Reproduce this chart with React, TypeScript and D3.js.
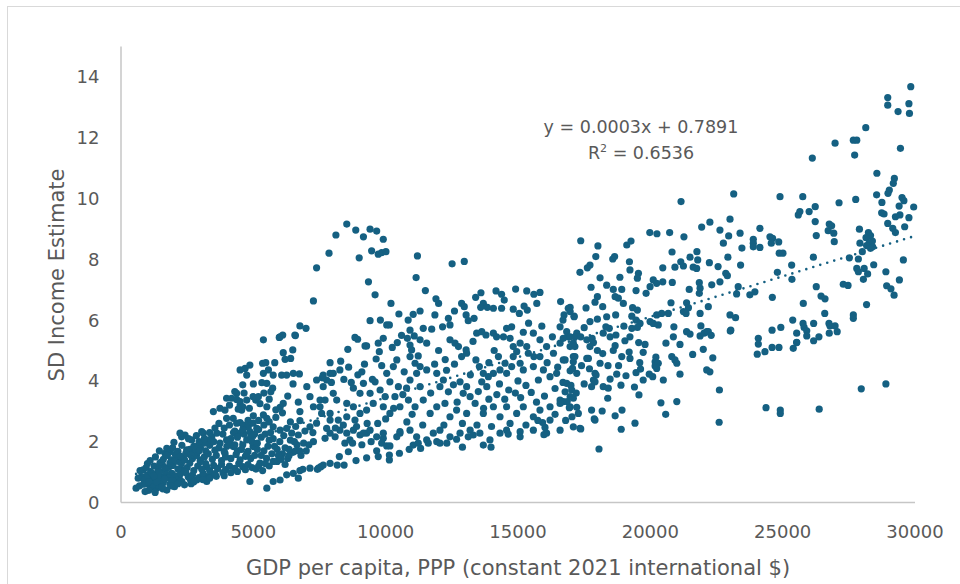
import React from "react";
import * as d3 from "d3";

// GDP per capita (PPP, constant 2021 int. $) vs. SD income estimate, grouped by GDP band.
const band0to5k: [number, number][] = [
  [570, 0.47], [910, 0.36], [780, 0.85], [840, 1.07], [1160, 0.52], [1350, 0.47], [1470, 0.63], [1730, 0.41],
  [1100, 0.85], [1350, 0.96], [1470, 1.29], [1660, 1.62], [1730, 1.78], [1920, 0.96], [1980, 1.29], [2100, 0.74],
  [2230, 1.51], [2350, 1.07], [2480, 1.73], [2540, 0.85], [2290, 2.16], [2420, 2.22], [2670, 2.06], [2860, 1.84],
  [2990, 1.4], [3240, 1.18], [3240, 0.85], [2860, 0.74], [3240, 0.69], [3050, 2.33], [3110, 2.28], [3430, 2.16],
  [3620, 2.28], [3740, 1.95], [3990, 2.06], [3930, 1.62], [4240, 1.84], [4500, 2.28], [4750, 2.06], [4990, 1.84],
  [3490, 2.99], [3740, 3.1], [3990, 2.77], [4240, 2.77], [4370, 2.61], [4690, 2.49], [4870, 2.33], [3990, 3.43],
  [4180, 3.43], [4370, 3.59], [4500, 3.21], [4560, 3.04], [4750, 3.37], [4990, 3.48], [4500, 4.36], [4690, 4.41],
  [4870, 4.52], [4600, 3.87], [4750, 4.19], [4870, 0.69], [1850, 1.67], [2230, 2.28], [4370, 3.39], [4500, 3.32],
  [4600, 3.15], [4430, 3.07], [3930, 3.04], [4500, 2.63], [4620, 2.55], [4810, 2.49], [4990, 2.61],
  [700, 0.55], [980, 0.62], [1230, 0.7], [1420, 0.58], [1600, 0.66], [1850, 0.6], [2020, 0.52], [2300, 0.69],
  [1050, 0.4], [1290, 0.33], [1580, 0.45], [2650, 0.62], [2200, 0.8], [650, 0.8], [880, 0.73], [1000, 0.9],
  [1180, 0.95], [1300, 0.78], [1520, 0.85], [1700, 0.95], [1800, 0.8], [2050, 0.88], [2250, 0.95], [2450, 0.99],
  [2700, 0.9], [2950, 0.82], [3100, 0.96], [3400, 0.92], [3600, 0.86], [3850, 0.98], [1400, 0.88], [1950, 0.72],
  [2620, 0.76], [720, 1.05], [950, 1.15], [1120, 1.02], [1250, 1.2], [1400, 1.1], [1560, 1.25], [1650, 1.05],
  [1800, 1.15], [1950, 1.22], [2150, 1.1], [2280, 1.28], [2500, 1.15], [2600, 1.3], [2750, 1.05], [2900, 1.2],
  [3050, 1.1], [3200, 1.28], [3350, 1.05], [3500, 1.22], [3650, 1.12], [3800, 1.25], [3950, 1.08], [4100, 1.2],
  [4300, 1.12], [4450, 1.28], [4600, 1.18], [4800, 1.25], [1000, 1.28], [1500, 1.32], [2400, 1.02], [1100, 1.38],
  [1300, 1.5], [1600, 1.42], [1750, 1.55], [1900, 1.4], [2050, 1.58], [2200, 1.35], [2350, 1.48], [2550, 1.6],
  [2700, 1.45], [2850, 1.55], [3000, 1.35], [3150, 1.5], [3300, 1.6], [3450, 1.42], [3600, 1.55], [3800, 1.38],
  [3950, 1.5], [4150, 1.45], [4350, 1.58], [4500, 1.4], [4700, 1.52], [4900, 1.45], [1450, 1.7], [1950, 1.8],
  [2150, 1.68], [2300, 1.88], [2600, 1.75], [2800, 1.65], [3000, 1.82], [3200, 1.7], [3350, 1.88], [3550, 1.72],
  [4000, 1.85], [4400, 1.7], [4600, 1.9], [4800, 1.68], [2000, 1.98], [2550, 2.1], [2850, 2.2], [3300, 2.05],
  [3850, 2.25], [4150, 2.1], [4300, 2.35], [4650, 2.25], [4900, 2.15],
  [2750, 0.68], [3100, 0.75], [3350, 0.8], [3550, 0.95], [3900, 0.88], [4150, 0.98], [4400, 1.02], [4700, 1.08],
  [4950, 1.15], [2400, 1.4], [2650, 1.55], [2950, 1.7], [3150, 1.95], [3500, 2.0], [3700, 1.8], [3900, 1.68],
  [4100, 2.0], [4300, 1.9], [4550, 1.75], [4750, 1.6], [4950, 2.0], [1200, 0.6], [1350, 0.68], [1550, 0.52],
  [1650, 0.78], [1900, 0.55], [2150, 0.62], [2400, 0.58], [850, 0.6], [1050, 0.68], [1250, 0.88], [1450, 1.02],
  [1650, 1.15], [1850, 1.3], [2050, 1.38], [2250, 1.52], [2450, 1.62], [2750, 1.85], [2950, 2.0], [3150, 2.1],
  [3350, 2.3], [3550, 2.45], [3700, 2.6], [3900, 2.45], [4100, 2.55], [4250, 2.3], [4400, 2.15], [4600, 2.4],
  [4800, 2.7], [4100, 3.2], [4300, 3.65], [4650, 3.6], [4850, 3.1],
];

const band5to10k: [number, number][] = [
  [5380, 5.35], [6010, 5.45], [6110, 5.51], [6570, 5.51], [6130, 4.93], [6490, 5.02], [6200, 4.71], [6410, 4.74],
  [5350, 4.58], [5470, 4.6], [5810, 4.6], [5380, 4.25], [5570, 4.36], [5750, 4.19], [6070, 4.19], [6260, 4.19],
  [6510, 4.25], [6740, 4.23], [5320, 3.94], [5510, 3.92], [5730, 3.76], [5660, 3.64], [5090, 3.37], [5190, 3.48],
  [5510, 3.15], [6010, 3.13], [6130, 3.26], [6760, 2.99], [5380, 2.88], [5510, 2.77], [5130, 2.44], [5750, 2.49],
  [6010, 2.38], [6260, 2.44], [6450, 2.28], [6700, 2.22], [7020, 3.81], [7140, 3.48], [7390, 4.03], [7640, 4.19],
  [7900, 4.25], [7520, 3.37], [7270, 3.15], [7580, 2.93], [7900, 2.71], [7770, 2.44], [7390, 2.61], [7140, 2.49],
  [6760, 2.69], [7270, 6.63], [6760, 5.81], [6990, 5.73], [6590, 5.49], [5980, 5.43], [7390, 7.72],
  [5510, 0.47], [5750, 0.69], [6010, 0.74], [6260, 0.91], [6510, 0.96], [6760, 1.05], [7140, 1.13], [7460, 1.13],
  [7640, 1.23], [7900, 1.29], [6700, 0.8], [6870, 1.09], [7420, 1.09], [7550, 1.18], [8170, 1.23], [8430, 1.23],
  [8250, 1.51], [8590, 1.67], [8880, 1.38], [9280, 1.47], [9660, 1.7], [9720, 1.51],
  [7270, 2.0], [7710, 2.11], [7900, 2.28], [8090, 2.16], [8460, 1.95], [8650, 2.06], [9030, 2.22], [9280, 2.28],
  [9660, 2.16], [9910, 2.11],
  [8530, 9.16], [8120, 8.8], [8870, 8.96], [9160, 8.74], [9410, 8.99], [9660, 8.93], [9910, 8.66], [9470, 8.28],
  [9720, 8.17], [9850, 8.22], [7860, 8.2], [9000, 8.05], [9350, 7.26], [9600, 6.83], [9410, 5.98], [8840, 5.43],
  [8940, 5.37], [9220, 5.15], [9280, 5.15], [8570, 5.04], [9720, 5.24], [9910, 5.4], [9760, 4.96], [9640, 4.72],
  [9600, 3.97], [9410, 3.59], [9160, 3.92], [9030, 3.59], [8780, 3.76], [8270, 4.36], [8020, 4.25], [7770, 4.03],
  [7640, 3.81], [8020, 3.59], [7710, 3.37], [7520, 3.15], [8150, 3.37], [7900, 2.93], [8530, 3.26], [8780, 3.15],
  [9030, 2.93], [8530, 2.82], [8210, 2.71], [8840, 2.71], [9280, 3.04], [9530, 3.26], [9910, 3.15], [8270, 2.38],
  [8530, 2.28], [8780, 2.38], [9160, 2.28], [9410, 2.38], [9910, 2.28], [9980, 3.48], [9790, 3.7],
  [5050, 1.55], [5150, 1.95], [5250, 1.3], [5300, 2.15], [5400, 1.7], [5500, 1.45], [5600, 2.05], [5700, 1.6],
  [5800, 1.85], [5900, 1.35], [6000, 2.0], [6100, 1.6], [6200, 1.8], [6300, 1.45], [6400, 2.05], [6500, 1.65],
  [6650, 1.9], [6800, 1.55], [5100, 1.1], [5350, 1.05], [5600, 1.2], [5900, 1.75], [6200, 1.25], [5200, 2.4],
  [5650, 2.3], [6900, 1.95], [7000, 1.7], [5050, 2.25], [7600, 4.1], [8300, 4.65], [8600, 4.45], [8950, 4.2],
  [9200, 4.55], [7950, 3.95], [7900, 4.6], [8420, 4.05], [8700, 3.95], [9100, 4.3],
  [5200, 1.2], [5450, 1.28], [5750, 1.35], [6050, 1.42], [6350, 1.55], [6600, 1.7], [5150, 1.75], [5300, 1.55],
  [5450, 2.25], [5550, 1.85], [5750, 2.1], [5950, 1.55], [6150, 2.2], [6350, 1.75], [6550, 2.0], [6750, 1.7],
  [6950, 2.35], [7100, 1.9], [7250, 2.3], [5000, 2.85], [5200, 2.7], [5400, 2.55], [5600, 2.65], [5850, 2.8],
  [6100, 2.95], [6400, 2.65], [6600, 2.5], [5000, 3.9], [5250, 3.25], [5400, 3.6], [5600, 3.4], [5850, 3.05],
  [6300, 3.5], [6500, 3.9], [6700, 3.3], [9500, 4.05], [9850, 4.5], [9800, 6.0], [9700, 2.6], [9300, 2.6],
  [8900, 2.5], [8400, 2.55], [8100, 2.45], [8750, 1.95], [9100, 1.9], [9450, 2.0], [9850, 1.95],
];

const band10to15k: [number, number][] = [
  [10010, 8.25], [11200, 8.11], [12510, 7.85], [12970, 7.93], [11150, 7.4], [11500, 6.97], [14170, 6.96],
  [14380, 6.85], [14480, 6.66], [14910, 7.02], [12870, 6.55], [12970, 6.44], [13690, 6.55], [13590, 6.42],
  [13840, 6.42], [14070, 6.39], [14380, 6.39], [14820, 6.36], [11040, 6.19], [11860, 6.17], [12370, 6.06],
  [12430, 5.84], [13040, 6.17], [13120, 5.98], [13340, 6.06], [10040, 5.84], [10140, 5.84], [10440, 5.26],
  [10920, 5.67], [11080, 5.48], [10820, 5.4], [10920, 5.18], [10980, 5.02], [11230, 4.82], [11420, 5.73],
  [11300, 5.35], [11550, 5.24], [11740, 5.7], [12150, 5.78], [12430, 5.35], [12620, 5.24], [12750, 5.13],
  [13040, 5.02], [12870, 4.8], [13060, 4.91], [13440, 5.57], [13630, 5.62], [13790, 5.51], [14070, 5.57],
  [14190, 5.45], [14450, 5.45], [14570, 5.73], [14760, 5.78], [14700, 5.4], [14820, 5.13], [14950, 4.96],
  [13410, 4.69], [13540, 4.47], [13690, 4.25], [13880, 4.14], [14070, 4.25], [13630, 3.97], [13820, 3.81],
  [14260, 4.8], [14510, 4.58], [14320, 4.36], [14570, 4.25], [14760, 4.47], [14820, 4.8], [11930, 4.25],
  [12180, 4.03], [12050, 3.81], [12370, 3.64], [12560, 3.87], [12810, 3.97], [13060, 3.81], [12930, 3.59],
  [13190, 3.48], [10920, 4.8], [11110, 4.58], [11300, 4.47], [11550, 4.36], [11170, 4.25], [10920, 4.03],
  [10790, 3.76], [11300, 3.81], [10420, 4.69], [10290, 4.47], [10040, 4.25], [10160, 3.97], [10480, 3.81],
  [10350, 3.48], [10160, 2.93], [10540, 3.15], [10860, 3.37], [11110, 3.15], [11420, 3.37], [11680, 2.93],
  [11930, 3.15], [12240, 3.26], [12430, 2.82], [12680, 3.04], [13060, 2.93], [13380, 3.26], [13690, 2.93],
  [14070, 3.15], [14320, 2.82], [14570, 3.15], [14950, 2.93], [10540, 2.28], [10920, 2.38], [11170, 2.16],
  [11550, 2.06], [11800, 2.28], [12050, 2.38], [12430, 2.16], [12810, 2.28], [13190, 2.38], [13560, 2.28],
  [13940, 2.06], [14320, 2.28], [14570, 2.38], [10040, 1.86], [10160, 1.86], [10140, 1.56], [10140, 1.4],
  [10520, 1.62], [10890, 1.75], [11040, 1.89], [11230, 1.95], [11320, 1.78], [11610, 1.95], [11930, 2.0],
  [12050, 1.95], [12310, 1.95], [12680, 2.08], [12900, 1.82], [13120, 2.16], [13310, 2.22], [13690, 1.89],
  [13980, 1.82], [14630, 2.25], [10420, 2.16], [10540, 2.33], [14200, 3.55], [14650, 3.7], [13900, 3.4],
  [10250, 5.1], [10600, 5.5], [10700, 4.3], [10650, 3.55], [10300, 3.1], [10800, 2.65], [11000, 2.9],
  [11400, 2.55], [11700, 3.6], [11850, 4.55], [12000, 5.0], [12250, 4.7], [12300, 4.35], [12600, 4.55],
  [12700, 3.3], [12900, 2.6], [13200, 4.2], [13300, 5.3], [13500, 3.65], [13700, 3.1], [13900, 4.6],
  [14100, 5.0], [14300, 3.9], [14500, 3.4], [14700, 2.6], [14900, 3.6], [12000, 6.55], [12600, 6.3],
  [13400, 6.75], [13600, 6.9], [11300, 6.3], [10500, 6.2], [10200, 6.55], [10850, 6.0], [11900, 6.7],
  [12200, 2.55], [13450, 2.55], [14000, 2.5], [10000, 2.75],
];

const band15to20k: [number, number][] = [
  [15330, 6.96], [15600, 6.85], [15830, 6.91], [15050, 6.22], [15350, 6.33], [15230, 6.46], [15710, 6.55],
  [16610, 6.61], [16900, 6.39], [17120, 6.13], [16740, 6.17], [15580, 5.57], [15830, 5.35], [16080, 5.13],
  [16340, 4.91], [16590, 5.24], [16900, 5.45], [16970, 5.13], [17220, 5.57], [17150, 5.13], [15080, 5.24],
  [15330, 5.13], [15390, 4.91], [15080, 4.58], [15200, 4.36], [15580, 4.47], [15830, 4.8], [15960, 4.36],
  [15770, 4.03], [16210, 4.14], [16460, 4.25], [16780, 4.69], [17090, 4.8], [17220, 4.25], [15200, 3.15],
  [15580, 2.82], [15830, 3.04], [16210, 3.15], [16590, 3.37], [16970, 3.15], [17280, 2.93], [15080, 2.16],
  [15580, 2.38], [16080, 2.28], [16590, 2.38], [17090, 2.49], [15080, 2.33], [15980, 2.23], [16020, 2.47],
  [15930, 2.63], [16210, 2.71], [17370, 2.42], [18060, 1.76], [17910, 2.71], [18900, 2.41], [19420, 2.61],
  [15100, 3.45], [15500, 3.62], [16000, 3.5], [16400, 3.75], [15300, 3.85], [16700, 3.95],
  [17370, 8.61], [18020, 8.44], [19110, 8.47], [19270, 8.6], [19980, 8.88], [17940, 8.09], [17720, 7.81],
  [17620, 7.72], [17340, 7.57], [18580, 8.01], [18650, 8.09], [19230, 7.65], [19550, 7.54], [19510, 7.38],
  [19210, 7.92], [18100, 7.39], [18850, 7.41], [18350, 7.15], [17760, 7.08], [18600, 7.01], [18920, 7.01],
  [18670, 6.77], [18790, 6.72], [18000, 6.77], [17910, 6.59], [18200, 6.44], [19460, 6.97], [19840, 6.88],
  [19990, 7.1], [18980, 6.55], [19330, 6.41], [19510, 6.33], [16970, 6.42], [17120, 6.11], [16970, 6.28],
  [17570, 6.4], [17720, 5.95], [18000, 6.03], [18350, 6.11], [18690, 6.17], [19300, 6.13], [19460, 6.0],
  [19610, 5.89], [19990, 5.95], [16590, 5.78], [16840, 5.62], [16970, 5.45], [17150, 5.45], [16710, 5.4],
  [17090, 5.24], [17370, 5.45], [17600, 5.35], [17800, 5.4], [17850, 5.26], [17720, 5.13], [18220, 5.57],
  [18450, 5.73], [18320, 5.78], [18480, 5.45], [18700, 5.51], [18670, 5.16], [19040, 5.32], [19230, 5.45],
  [19300, 5.73], [19510, 5.76], [19560, 5.26], [18920, 4.8], [19230, 4.74], [19730, 4.94], [17150, 4.8],
  [17090, 4.63], [16970, 4.33], [17060, 4.41], [16710, 4.69], [17600, 4.74], [17660, 4.74], [18100, 4.58],
  [17910, 4.25], [17850, 4.03], [17950, 4.19], [18220, 3.81], [18410, 3.76], [17780, 3.81], [17910, 3.97],
  [18480, 4.06], [18730, 4.22], [18890, 3.86], [19080, 4.17], [19460, 4.27], [19730, 4.03], [19630, 4.39],
  [19960, 4.22], [16840, 3.92], [17030, 3.7], [16780, 3.64], [16970, 3.48], [16710, 3.32], [16590, 3.26],
  [16860, 3.32], [17090, 3.43], [16940, 3.12], [17220, 3.13], [17040, 2.82], [17340, 2.44], [17780, 3.04],
  [17880, 2.75], [18180, 3.01], [18670, 2.85], [18930, 3.04], [18390, 3.43], [19570, 3.54],
  [15000, 4.0], [15200, 5.6], [15400, 5.9], [15600, 4.8], [15700, 3.3], [15900, 5.8], [16100, 4.6],
  [16300, 5.45], [16400, 2.9], [16500, 4.45], [16700, 6.0], [16800, 2.7], [17000, 3.85], [17200, 3.6],
  [17400, 4.5], [17500, 3.9], [17500, 5.75], [17700, 4.4], [18000, 5.0], [18200, 4.9], [18400, 4.5],
  [18600, 5.0], [18800, 4.5], [19000, 5.8], [19200, 4.95], [19400, 3.8], [19600, 4.6], [19800, 5.2],
  [15300, 2.55], [15750, 2.7],
];

const band20to25k: [number, number][] = [
  [20250, 8.84], [20730, 8.88], [21270, 8.74], [20820, 8.24], [20110, 7.32], [20240, 7.21], [20470, 7.26],
  [20830, 7.24], [20780, 6.57], [20240, 6.17], [20430, 6.22], [20680, 6.22], [20110, 5.89], [20300, 5.84],
  [20210, 4.78], [20180, 4.63], [20590, 5.24], [20090, 4.14], [20180, 4.49], [20300, 4.58], [20240, 4.41],
  [20490, 4.03], [20400, 3.28], [20580, 2.9], [21000, 3.32], [23150, 10.15], [21160, 9.9], [23010, 9.32],
  [22250, 9.22], [21940, 9.06], [22630, 8.96], [23390, 8.86], [22960, 8.77], [22760, 8.53], [23460, 8.37],
  [21760, 8.25], [21500, 8.07], [21790, 7.98], [22930, 8.07], [21150, 7.92], [20930, 7.74], [21250, 7.78],
  [21620, 7.74], [21750, 7.7], [20470, 7.72], [22230, 7.89], [22560, 7.76], [23410, 7.81], [21470, 7.01],
  [21850, 7.23], [21880, 7.05], [21850, 6.88], [22320, 7.16], [22630, 7.26], [22910, 7.46], [22850, 7.54],
  [23320, 7.1], [23260, 6.86], [23760, 6.83], [23950, 6.93], [21370, 6.57], [21440, 6.41], [21250, 6.28],
  [21350, 6.22], [22190, 6.44], [21880, 6.22], [23010, 6.17], [23220, 6.08], [20890, 5.78], [20870, 5.45],
  [21120, 5.2], [21370, 5.62], [21500, 5.54], [21880, 5.48], [22030, 5.57], [22130, 5.62], [21910, 5.81],
  [23040, 5.67], [20810, 4.8], [20930, 4.69], [21000, 4.58], [21600, 4.87], [22000, 5.04], [22360, 4.76],
  [21120, 4.22], [22130, 4.36], [22250, 4.3], [22610, 3.7], [22600, 2.64], [24140, 9.02], [23890, 8.66],
  [23890, 8.53], [23890, 8.41], [24140, 8.39], [24520, 8.74], [24620, 8.69], [24570, 8.53], [24850, 8.57],
  [24870, 8.2], [24800, 7.57], [24610, 6.75], [24900, 10.06], [24080, 5.4], [24080, 5.21], [24040, 4.88],
  [24330, 4.96], [24600, 5.1], [24860, 5.1], [24600, 5.67], [24930, 5.76], [24370, 3.12], [24910, 3.04],
  [24910, 2.93], [23020, 5.64], [22190, 5.62], [22300, 5.5],
];

const band25to30k: [number, number][] = [
  [29840, 13.68], [28970, 13.32], [28970, 13.07], [29770, 13.12], [29360, 12.86], [29790, 12.8], [28140, 12.33],
  [26980, 11.82], [27670, 11.92], [27800, 11.92], [27720, 11.43], [26120, 11.33], [29450, 11.65], [28560, 10.83],
  [29220, 10.66], [29180, 10.5], [29030, 10.28], [28980, 10.17], [28550, 10.12], [29510, 10.03], [29580, 9.93],
  [25760, 10.06], [26230, 9.73], [25590, 9.46], [25650, 9.57], [26000, 9.57], [27130, 9.86], [27760, 9.97],
  [28750, 9.87], [28740, 9.53], [28830, 9.49], [29400, 9.75], [29950, 9.72], [29260, 9.4], [29430, 9.46],
  [29770, 9.37], [28970, 9.18], [29610, 9.07], [29160, 9.02], [29260, 8.88], [26230, 9.24], [26270, 8.78],
  [26760, 9.16], [26850, 9.1], [26720, 8.94], [26930, 8.86], [26950, 8.58], [27900, 8.99], [28240, 8.88],
  [28320, 8.78], [28150, 8.71], [28390, 8.6], [28270, 8.53], [28400, 8.41], [28170, 8.45], [28320, 8.36],
  [27920, 8.53], [28010, 8.25], [25010, 8.2], [26160, 8.07], [27520, 8.05], [25340, 7.81], [25350, 7.34],
  [27860, 8.01], [27800, 7.7], [27860, 7.59], [28080, 7.7], [28210, 7.52], [28050, 7.34], [28440, 7.82],
  [28900, 7.59], [29410, 7.32], [29560, 7.98], [27290, 7.18], [27470, 7.14], [28930, 7.13], [29090, 7.03],
  [29210, 6.82], [26270, 7.1], [26450, 6.79], [26600, 6.7], [25780, 6.55], [28170, 6.51], [26590, 6.22],
  [27670, 6.17], [27670, 6.06], [25380, 6.0], [25770, 5.89], [25810, 5.76], [25910, 5.65], [25910, 5.48],
  [25530, 5.57], [25530, 5.27], [26170, 5.89], [26170, 5.32], [26370, 5.45], [26750, 5.89], [26790, 5.81],
  [26980, 5.81], [26760, 5.57], [27060, 5.62], [25400, 5.07], [25530, 5.26], [27970, 3.74], [28900, 3.9],
  [26380, 3.07],
];

// Excel-style linear trendline coefficients
const trendSlope = 0.000266;
const trendIntercept = 0.7891;
const rSquared = 0.6536;

const xTicks = [0, 5000, 10000, 15000, 20000, 25000, 30000];
const yTicks = [0, 2, 4, 6, 8, 10, 12, 14];

const xAxisTitle = "GDP per capita, PPP (constant 2021 international $)";
const yAxisTitle = "SD Income Estimate";

const W = 960;
const H = 584;
const plot = { left: 121, right: 915, top: 46.5, bottom: 502.5 };
const dotColor = "#156082";
const textColor = "#595959";
const axisColor = "#c6c6c6";
const font = "'DejaVu Sans', 'Liberation Sans', sans-serif";

export default function App() {
  const points = [...band0to5k, ...band5to10k, ...band10to15k, ...band15to20k, ...band20to25k, ...band25to30k];

  const x = d3.scaleLinear().domain([0, 30000]).range([plot.left, plot.right]);
  const y = d3.scaleLinear().domain([0, 15]).range([plot.bottom, plot.top]);

  const xMin = d3.min(points, (p) => p[0]) as number;
  const xMax = d3.max(points, (p) => p[0]) as number;
  const trend = d3
    .line<number>()
    .x((v) => x(v))
    .y((v) => y(trendSlope * v + trendIntercept));

  return (
    <svg
      width={W}
      height={H}
      viewBox={`0 0 ${W} ${H}`}
      style={{ position: "absolute", left: 0, top: 0, background: "#fff" }}
    >
      <rect x={0} y={0} width={W} height={H} fill="#fff" />
      <rect x={7.5} y={6.5} width={W + 20} height={H + 20} fill="none" stroke="#d9d9d9" strokeWidth={1} />

      {/* axes */}
      <line x1={plot.left} x2={plot.left} y1={plot.top} y2={plot.bottom} stroke={axisColor} strokeWidth={1.5} />
      <line x1={plot.left} x2={plot.right} y1={plot.bottom} y2={plot.bottom} stroke={axisColor} strokeWidth={1.5} />

      {yTicks.map((t) => (
        <text key={`y${t}`} x={99.5} y={y(t) + 6.5} textAnchor="end" fontFamily={font} fontSize={18} fill={textColor}>
          {t}
        </text>
      ))}
      {xTicks.map((t) => (
        <text key={`x${t}`} x={x(t)} y={537.5} textAnchor="middle" fontFamily={font} fontSize={18} fill={textColor}>
          {t}
        </text>
      ))}

      <text x={518} y={575} textAnchor="middle" fontFamily={font} fontSize={21} fill={textColor}>
        {xAxisTitle}
      </text>
      <text
        transform={`translate(64,275) rotate(-90)`}
        textAnchor="middle"
        fontFamily={font}
        fontSize={21}
        fill={textColor}
      >
        {yAxisTitle}
      </text>

      {/* scatter points */}
      <g fill={dotColor}>
        {points.map((p, i) => (
          <circle key={i} cx={x(p[0])} cy={y(p[1])} r={3.6} />
        ))}
      </g>

      {/* dotted linear trendline */}
      <path
        d={trend([xMin, xMax]) ?? ""}
        fill="none"
        stroke={dotColor}
        strokeWidth={2.6}
        strokeDasharray="0 7.3"
        strokeLinecap="round"
      />

      {/* trendline equation */}
      <text x={641} y={133} textAnchor="middle" fontFamily={font} fontSize={17.5} fill={textColor}>
        {`y = ${trendSlope.toFixed(4)}x + ${trendIntercept.toFixed(4)}`}
      </text>
      <text x={641} y={159} textAnchor="middle" fontFamily={font} fontSize={17.5} fill={textColor}>
        R<tspan fontSize={11} dy={-7}>2</tspan>
        <tspan dy={7}>{` = ${rSquared.toFixed(4)}`}</tspan>
      </text>
    </svg>
  );
}
